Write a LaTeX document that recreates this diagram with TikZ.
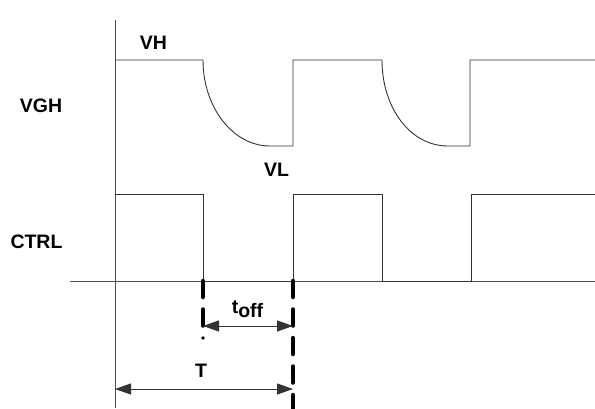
\documentclass[tikz,border=0pt]{standalone}
\usepackage{fontspec}
\setmainfont{Liberation Sans}
\usetikzlibrary{arrows.meta}
\begin{document}
\begin{tikzpicture}[x=1pt,y=-1pt,
  wave/.style={draw=black!80, line width=0.9pt},
  axis/.style={draw=black!70, line width=0.9pt},
  marker/.style={draw=black, line width=4.5pt, line cap=round, dash pattern=on 16pt off 12.5pt},
  dim/.style={draw=black!80, line width=0.9pt, {Triangle[length=16pt,width=11pt]}-{Triangle[length=16pt,width=11pt]}},
  lbl/.style={anchor=base, inner sep=0pt, font=\fontsize{19.5}{20}\selectfont\bfseries}]
\useasboundingbox (0,0) rectangle (595,408);
% axes
\draw[axis] (115,20) -- (115,408);
\draw[axis] (70,281) -- (595,281);
% VGH waveform
\draw[wave] (115,60) -- (203,60)
  .. controls (203,107.5) and (233,146) .. (270,146) -- (293,146) -- (293,60) -- (382,60)
  .. controls (382,107.5) and (410,146) .. (448,146) -- (470,146) -- (470,60) -- (595,60);
% CTRL waveform
\draw[wave] (115,194) -- (203,194) -- (203,281) -- (293,281) -- (293,194) -- (382,194)
  -- (382,281) -- (471,281) -- (471,194) -- (595,194);
% markers
\coordinate (m1top) at (203,281);
\coordinate (m1bot) at (203,328);
\coordinate (m2top) at (293,281);
\coordinate (m2bot) at (293,412);
\draw[marker] (m1top) -- (m1bot);
\fill (203,338) circle (1.8pt);
\draw[marker] (m2top) -- (m2bot);
% dimension arrows
\coordinate (toffL) at (203,326);
\coordinate (toffR) at (293,326);
\coordinate (TL) at (115,389);
\coordinate (TR) at (293,389);
\draw[dim] (toffL) -- (toffR);
\draw[dim] (TL) -- (TR);
% labels
\node[lbl] (vh) at (153.5,49) {VH};
\node[lbl] (vl) at (276.5,176) {VL};
\node[lbl] (vgh) at (41,112) {VGH};
\node[lbl] (ctrl) at (36.5,248) {CTRL};
\node[lbl] (T) at (201,377) {T};
\node[lbl] (toff) at (247.5,313) {t\raisebox{-4pt}{off}};
\end{tikzpicture}
\end{document}
